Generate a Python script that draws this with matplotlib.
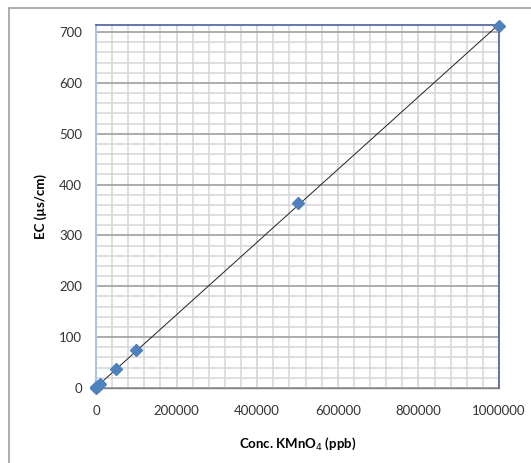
import numpy as np
import matplotlib
matplotlib.use("Agg")
import matplotlib.pyplot as plt
from matplotlib.ticker import MultipleLocator
from matplotlib.lines import Line2D

# KMnO4 concentration (ppb) vs. electrical conductivity (µs/cm)
conc_ppb = [0, 1000, 5000, 10000, 50000, 100000, 500000, 1000000]
ec_us_cm = [0.5, 1.5, 4, 7.5, 37, 74, 363, 713]

x_ticks = [0, 200000, 400000, 600000, 800000, 1000000]
y_ticks = [0, 100, 200, 300, 400, 500, 600, 700]

plt.rcParams['font.family'] = ['Lato', 'DejaVu Sans']

fig = plt.figure(figsize=(5.31, 4.63), dpi=100)
fig.patch.set_facecolor('white')

# chart frame on the left and top edges
fig.add_artist(Line2D([9 / 531, 9 / 531], [0, 1 - 8 / 463], transform=fig.transFigure,
                      color='#a0a0a0', lw=1.2))
fig.add_artist(Line2D([9 / 531, 1], [1 - 8 / 463, 1 - 8 / 463], transform=fig.transFigure,
                      color='#a0a0a0', lw=1.2))

ax = fig.add_axes([96 / 531, 75 / 463, 403 / 531, 363 / 463])

ax.set_xlim(0, 1000000)
ax.set_ylim(0, 714)
ax.set_xticks(x_ticks)
ax.set_xticklabels([str(t) for t in x_ticks])
ax.set_yticks(y_ticks)
ax.set_yticklabels([str(t) for t in y_ticks])
ax.xaxis.set_minor_locator(MultipleLocator(40000))
ax.yaxis.set_minor_locator(MultipleLocator(20))

ax.grid(which='minor', axis='both', color='#d6d6d6', lw=1.1)
ax.grid(which='major', axis='x', color='#cfcfcf', lw=1.1)
ax.grid(which='major', axis='y', color='#a6a6a6', lw=1.3)
ax.set_axisbelow(True)

ax.tick_params(which='both', length=0, labelsize=9.5, colors='#333333', pad=10)
ax.tick_params(axis='x', pad=12)

ax.spines['left'].set_color('#a9c4e4')
ax.spines['left'].set_linewidth(1.5)
ax.spines['bottom'].set_color('#808080')
ax.spines['bottom'].set_linewidth(1.0)
ax.spines['top'].set_color('#4a5d9a')
ax.spines['top'].set_linewidth(1.2)
ax.spines['right'].set_color('#4a5d9a')
ax.spines['right'].set_linewidth(1.2)

# linear trendline fitted to the measurements
coef = np.polyfit(conc_ppb, ec_us_cm, 1)
xs = np.array([0, 1000000])
ax.plot(xs, np.polyval(coef, xs), color='#222222', lw=0.7, zorder=3)

ax.plot(conc_ppb, ec_us_cm, linestyle='none', marker='D', markersize=6.5,
        color='#4f81bd', markeredgecolor='#4f81bd', zorder=4, clip_on=False)

ax.set_xlabel('Conc. KMnO$_4$ (ppb)', fontsize=9.5, fontweight='bold', labelpad=14)
ax.set_ylabel('EC (µs/cm)', fontsize=9.5, fontweight='bold', labelpad=9)

fig.savefig('out.png', dpi=100)
